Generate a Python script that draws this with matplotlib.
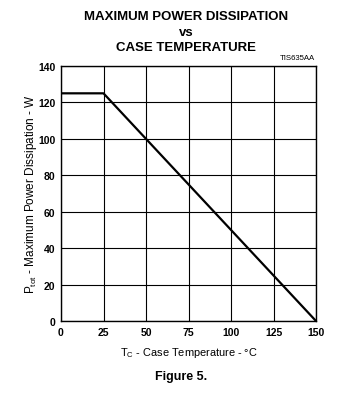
import matplotlib
matplotlib.use("Agg")
from matplotlib import pyplot as plt

plt.rcParams['font.family'] = ['Liberation Sans', 'DejaVu Sans']

# --------------------- дані графіка ----------------------
case_temp = [0, 25, 150]
power_max = [125, 125, 0]
x_ticks = [0, 25, 50, 75, 100, 125, 150]
y_ticks = [0, 20, 40, 60, 80, 100, 120, 140]

fig = plt.figure(figsize=(3.6, 4.02), dpi=100)
ax = fig.add_axes([61 / 360, 80 / 402, 255 / 360, 255 / 402])

ax.plot(case_temp, power_max, color='black', linewidth=1.6, solid_capstyle='butt')

ax.set_xlim(0, 150)
ax.set_ylim(0, 140)
ax.set_xticks(x_ticks)
ax.set_yticks(y_ticks)
ax.grid(True, color='black', linewidth=0.8)
ax.tick_params(length=0, pad=4, labelsize=7.5)
for lbl in ax.get_xticklabels() + ax.get_yticklabels():
    lbl.set_fontweight('bold')
for sp in ax.spines.values():
    sp.set_linewidth(1.0)

ax.set_xlabel('T$_\\mathregular{C}$ - Case Temperature - °C', fontsize=7.9)
ax.set_ylabel('P$_\\mathregular{tot}$ - Maximum Power Dissipation - W', fontsize=8.5)
ax.xaxis.set_label_coords(0.5, -24 / 255)
ax.yaxis.set_label_coords(-22 / 255, 0.5)

# заголовок
tx = 186 / 360
fig.text(tx, 1 - 17 / 402, 'MAXIMUM POWER DISSIPATION', ha='center', va='center',
         fontsize=9.5, fontweight='bold')
fig.text(tx, 1 - 33 / 402, 'vs', ha='center', va='center', fontsize=9.5, fontweight='bold')
fig.text(tx, 1 - 48 / 402, 'CASE TEMPERATURE', ha='center', va='center',
         fontsize=9.5, fontweight='bold')
fig.text(315 / 360, 1 - 59 / 402, 'TIS635AA', ha='right', va='center', fontsize=5.6)
fig.text(181 / 360, 1 - 377 / 402, 'Figure 5.', ha='center', va='center', fontsize=9, fontweight='bold')

fig.savefig('out.png', dpi=100)
